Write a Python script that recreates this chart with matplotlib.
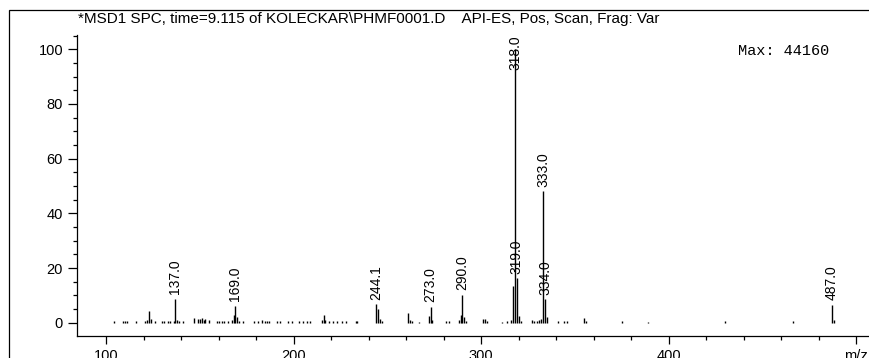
import numpy as np
import matplotlib
matplotlib.use("Agg")
import matplotlib.pyplot as plt
from matplotlib.patches import Rectangle
from matplotlib.ticker import MultipleLocator, FixedLocator

plt.rcParams['font.family'] = ['Liberation Sans', 'DejaVu Sans']

# spectrum: m/z and relative abundance (%)
mz = [104, 109, 110, 111, 116, 121, 122, 123, 124, 126, 130, 131, 133, 134, 136,
      137, 138, 139, 141, 147, 149, 150, 151, 152, 153, 155, 159, 160, 162, 163,
      165, 167, 168, 169, 170, 171, 173, 179, 181, 183, 185, 186, 187, 191, 193,
      197, 199, 203, 205, 207, 209, 215, 216, 217, 219, 221, 223, 226, 228, 233,
      234, 244, 245, 246, 247, 261, 262, 263, 267, 272, 273, 274, 281, 283, 288,
      289, 290, 291, 292, 301, 302, 303, 311, 314, 316, 317, 318, 319, 320, 321,
      327, 328, 330, 331, 332, 333, 334, 335, 341, 344, 346, 355, 356, 375, 389,
      430, 466, 487, 488]
abund = [0.5, 0.6, 0.8, 0.8, 0.6, 0.8, 1.0, 4.3, 1.2, 0.6, 0.5, 0.5, 0.6, 0.8, 0.6,
         8.8, 1.0, 0.8, 0.8, 1.8, 1.5, 1.2, 1.8, 1.0, 1.5, 1.0, 0.6, 0.5, 0.5, 0.6,
         0.8, 1.0, 2.8, 6.1, 2.0, 0.8, 0.5, 0.6, 0.6, 1.0, 0.8, 0.8, 0.6, 0.5, 0.6,
         0.5, 0.8, 0.5, 0.6, 0.8, 0.5, 1.0, 2.8, 1.0, 0.8, 0.6, 0.6, 0.5, 0.6, 0.8,
         0.6, 6.7, 5.0, 1.2, 0.6, 3.7, 1.0, 0.8, 0.4, 2.5, 5.9, 1.0, 0.5, 0.5, 1.0,
         3.0, 10.1, 2.0, 0.6, 1.5, 1.2, 0.5, 0.4, 0.5, 1.0, 13.4, 100.0, 16.2, 2.5, 0.6,
         1.0, 0.6, 0.8, 1.0, 1.5, 48.0, 8.5, 2.0, 0.6, 0.8, 0.6, 1.8, 0.8, 0.5, 0.4,
         0.5, 0.6, 6.5, 1.0]

# labelled peaks
label_mz = [137.0, 169.0, 244.1, 273.0, 290.0, 318.0, 319.0, 333.0, 334.0, 487.0]
label_h = [8.8, 6.1, 6.7, 5.9, 10.1, 100.0, 16.2, 48.0, 8.5, 6.5]

x_ticks = [100, 200, 300, 400, 500]
x_ticklabels = ["100", "200", "300", "400", "m/z"]
y_ticks = [0, 20, 40, 60, 80, 100]

title = "*MSD1 SPC, time=9.115 of KOLECKAR\\PHMF0001.D    API-ES, Pos, Scan, Frag: Var"
max_text = "Max: 44160"

W, H = 870, 358
fig = plt.figure(figsize=(W / 100, H / 100), dpi=100)
x_right = 869  # pixel where the x axis ends
ax = fig.add_axes([77 / W, (H - 336) / H, (x_right - 77) / W, (336 - 35) / H])

ax.vlines(mz, 0, abund, color="black", lw=1.0)

for m, h in zip(label_mz, label_h):
    if h > 80:
        # no room above the tallest peak: hang the label from the top
        ax.annotate("%.1f" % m, xy=(m, 105.2), ha="center", va="top",
                    rotation=90, fontsize=10)
    else:
        ax.annotate("%.1f" % m, xy=(m, h), xytext=(0, 3.5),
                    textcoords="offset points", ha="center", va="bottom",
                    rotation=90, fontsize=10)

# x scale: 100 -> px 106, 1.876 px per unit
ax.set_xlim(100 - (106 - 77) / 1.876, 100 + (x_right - 106) / 1.876)
ax.set_ylim(-4.86, 105.2)

ax.spines["top"].set_visible(False)
ax.spines["right"].set_visible(False)
ax.spines["left"].set_linewidth(0.9)
ax.spines["bottom"].set_linewidth(0.9)

ax.xaxis.set_major_locator(FixedLocator(x_ticks))
ax.set_xticklabels(x_ticklabels)
ax.xaxis.set_minor_locator(MultipleLocator(20))
ax.yaxis.set_major_locator(FixedLocator(y_ticks))
ax.yaxis.set_minor_locator(MultipleLocator(5))

ax.tick_params(axis="x", which="major", length=5.5, width=0.9, pad=3.5, labelsize=10.5)
ax.tick_params(axis="x", which="minor", length=3, width=0.9)
ax.tick_params(axis="y", which="major", length=6.5, width=0.9, pad=3.5, labelsize=10.5)
ax.tick_params(axis="y", which="minor", length=3, width=0.9)

# outer frame: only its left and top edges fall inside the picture
fig.add_artist(Rectangle((9.5 / W, -0.5), 1.5, 1.5 - 9.5 / H, fill=False,
                         edgecolor="black", lw=0.9, transform=fig.transFigure))

fig.text(78 / W, 1 - 11.5 / H, title, ha="left", va="top", fontsize=11)
fig.text(829 / W, 1 - 51 / H, max_text, ha="right", va="center", fontsize=11,
         family=["Liberation Mono", "DejaVu Sans Mono"])

fig.savefig("out.png", dpi=100)
